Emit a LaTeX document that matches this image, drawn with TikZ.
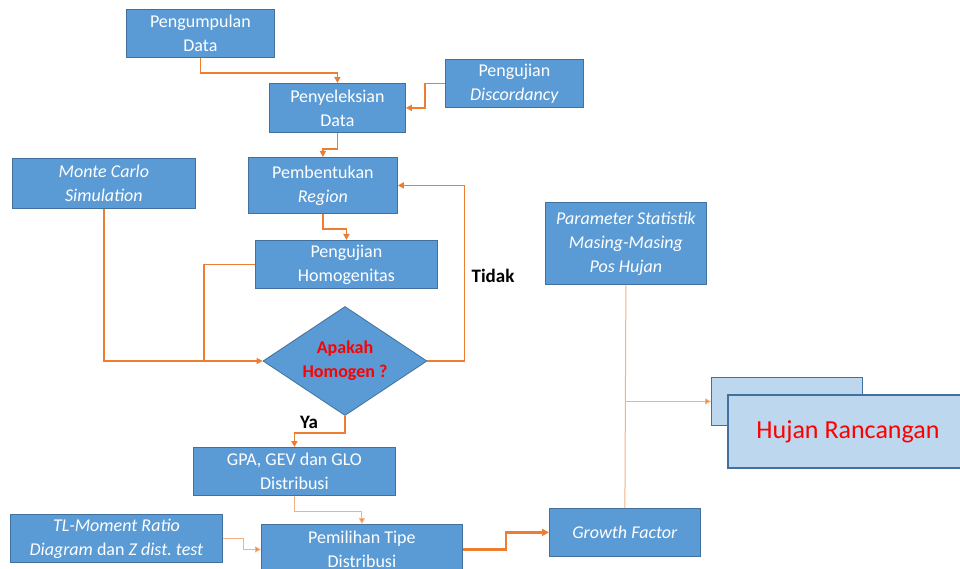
\documentclass[tikz,border=0pt]{standalone}
\usepackage{fontspec}
\setmainfont{Carlito}
\usetikzlibrary{shapes.geometric,arrows.meta}
\definecolor{boxblue}{RGB}{91,155,213}
\definecolor{boxedge}{RGB}{65,113,156}
\definecolor{lightblue}{RGB}{189,215,238}
\definecolor{flow}{RGB}{237,125,49}
\definecolor{flowlight}{RGB}{244,177,131}

\begin{document}
\begin{tikzpicture}[x=1pt,y=-1pt,
    box/.style={draw=boxedge,line width=0.8pt,fill=boxblue,text=white,anchor=north west,inner sep=0pt,
      align=center,font=\fontsize{18}{24}\selectfont},
    lightbox/.style={draw=boxedge,fill=lightblue,anchor=north west,inner sep=0pt},
    decision/.style={diamond,draw=boxedge,line width=0.8pt,fill=boxblue,aspect=1.5,inner sep=0pt,
      minimum width=164pt,minimum height=109pt,align=center,text=red,font=\fontsize{18}{24}\selectfont\bfseries},
    label/.style={font=\fontsize{19}{22}\selectfont\bfseries},
    conn/.style={draw=flow,line width=1.5pt},
    arr/.style={conn,-{Triangle[length=6pt,width=6pt]}},
    arrthin/.style={draw=flowlight,line width=1pt,-{Triangle[length=6pt,width=6pt,fill=flow]}}]
\useasboundingbox (0,0) rectangle (960,569);

% boxes
\node[box,minimum width=148pt,minimum height=48pt] (pengumpulan) at (126,9) {Pengumpulan\\Data};
\node[box,minimum width=136pt,minimum height=49pt] (penyeleksian) at (269,83) {Penyeleksian\\Data};
\node[box,minimum width=138pt,minimum height=48pt] (discordancy) at (445,59) {Pengujian\\\textit{Discordancy}};
\node[box,minimum width=183pt,minimum height=50pt] (montecarlo) at (12,158) {\textit{Monte Carlo}\\\textit{Simulation}};
\node[box,minimum width=149pt,minimum height=56pt] (pembentukan) at (248,157) {Pembentukan\\\textit{Region}};
\node[box,minimum width=182pt,minimum height=48pt] (homogenitas) at (255,240) {Pengujian\\Homogenitas};
\node[decision] (homogen) at (345,361) {Apakah\\Homogen ?};
\node[box,minimum width=202pt,minimum height=48pt] (gpa) at (193,447) {GPA, GEV dan GLO\\Distribusi};
\node[box,minimum width=212pt,minimum height=48pt] (tlmoment) at (10,514) {\textit{TL-Moment Ratio}\\\textit{Diagram} dan \textit{Z dist.\ test}};
\node[box,minimum width=201pt,minimum height=50pt] (pemilihan) at (261,524) {Pemilihan Tipe\\Distribusi};
\node[box,minimum width=151pt,minimum height=48pt] (growth) at (549,508) {\textit{Growth Factor}};
\node[box,minimum width=161pt,minimum height=82pt] (parameter) at (545,202) {\textit{Parameter Statistik}\\\textit{Masing-Masing}\\\textit{Pos Hujan}};
\node[lightbox,line width=0.8pt,minimum width=151pt,minimum height=48pt] (hujanback) at (711,377) {};
\node[lightbox,line width=2pt,minimum width=240pt,minimum height=73pt,text=red,
  font=\fontsize{26}{30}\selectfont] (hujan) at (727,394) {Hujan Rancangan};

% labels
\node[label] (tidak) at (493,276) {Tidak};
\node[label] (ya) at (309,422) {Ya};
\coordinate (join) at (204,361);
\coordinate (branch) at (parameter.south |- hujanback.west);

% connectors
\draw[arr] (pengumpulan.south) -- ++(0,15) -| (penyeleksian.north);
\draw[arr] (discordancy.west) -- ++(-20,0) |- (penyeleksian.east);
\draw[arr] (penyeleksian.south) -- ++(0,16) -| (pembentukan.north);
\draw[arr] (pembentukan.south) -- ++(0,15) -| (homogenitas.north);
\draw[conn] (homogenitas.west) -| (join);
\draw[arr] (montecarlo.south) |- (homogen.west);
\draw[arr] (homogen.east) -- ++(37,0) |- (pembentukan.east);
\draw[arr] (homogen.south) -- ++(0,17) -| (gpa.north);
\draw[arrthin] (gpa.south) -- ++(0,16) -| (pemilihan.north);
\draw[arrthin] (tlmoment.east) -- ++(21,0) |- (pemilihan.west);
\draw[conn,line width=2.5pt,-{Triangle[length=7pt,width=7pt]}] (pemilihan.east) -- ++(43,0) |- (growth.west);
\draw[draw=flowlight,line width=1pt] (parameter.south) -- (growth.north);
\draw[arrthin] (branch) -- (hujanback.west);
\end{tikzpicture}
\end{document}
